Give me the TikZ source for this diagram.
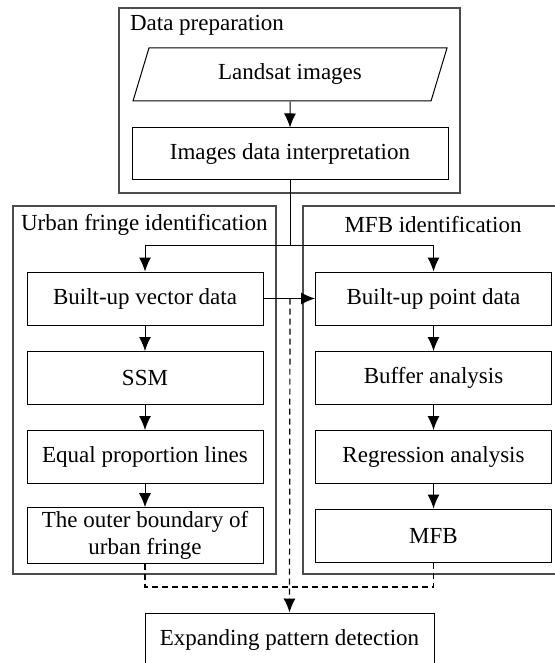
\documentclass[tikz,border=0pt]{standalone}
\usepackage{fontspec}
\setmainfont{Liberation Serif}
\usetikzlibrary{
    arrows.meta,
    shapes.geometric
}

\begin{document}
\begin{tikzpicture}[
    >={Latex[length=7pt,width=6pt]},
    x=0.5pt, y=-0.5pt,
    every node/.style={font=\fontsize{11.5}{13.2}\selectfont},
    stepbox/.style={draw, line width=0.5pt, minimum width=118pt,
        minimum height=26.5pt, inner sep=2pt},
    groupbox/.style={draw=black!70, line width=0.8pt},
    flow/.style={->, line width=0.5pt},
    dashflow/.style={line width=0.6pt, dash pattern=on 3pt off 2pt}
]

\useasboundingbox (0,0) rectangle (555,663);

% Groups
\draw[groupbox] (119,8) rectangle (460,193);
\draw[groupbox] (13,206) rectangle (276,574);
\draw[groupbox] (303,206) rectangle (562,574);

\node[anchor=west] (prep) at (123,25) {Data preparation};
\node[anchor=west] (urban) at (14,225) {Urban fringe identification};
\node (mfbid) at (433,225) {MFB identification};

% Data preparation
\node[draw, line width=0.5pt, trapezium, trapezium left angle=65,
    trapezium right angle=115, trapezium stretches body,
    minimum width=157pt, minimum height=26.5pt]
    (landsat) at (290,74.5) {Landsat images};
\node[stepbox, minimum width=158pt, minimum height=26pt]
    (interp) at (290,154) {Images data interpretation};

% Urban fringe identification
\node[stepbox] (vector) at (145,298.5) {Built-up vector data};
\node[stepbox] (ssm) at (145,378) {SSM};
\node[stepbox] (equal) at (145,457) {Equal proportion lines};
\node[stepbox, align=center] (outer) at (145,535.5)
    {The outer boundary of\\urban fringe};

% MFB identification
\node[stepbox] (point) at (433.5,298.5) {Built-up point data};
\node[stepbox] (buffer) at (433.5,378) {Buffer analysis};
\node[stepbox] (regress) at (433.5,457) {Regression analysis};
\node[stepbox] (mfb) at (433.5,535.5) {MFB};

% Result
\node[stepbox, minimum width=144.5pt, minimum height=27pt]
    (expand) at (289.5,640) {Expanding pattern detection};

% Connectors
\coordinate (split) at (290,245);
\coordinate (tap) at (290,298.5);
\coordinate (join) at (290,587);

\draw[flow] (landsat) -- (interp);
\draw[line width=0.5pt] (interp.south) -- (split);
\draw[flow] (split) -| (vector.north);
\draw[flow] (split) -| (point.north);
\draw[flow] (vector) -- (point);

\foreach \a/\b in {vector/ssm, ssm/equal, equal/outer,
    point/buffer, buffer/regress, regress/mfb}
    \draw[flow] (\a) -- (\b);

\draw[dashflow] (outer.south) |- (join) -| (mfb.south);
\draw[dashflow, ->] (tap) -- (expand.north);

\end{tikzpicture}
\end{document}
